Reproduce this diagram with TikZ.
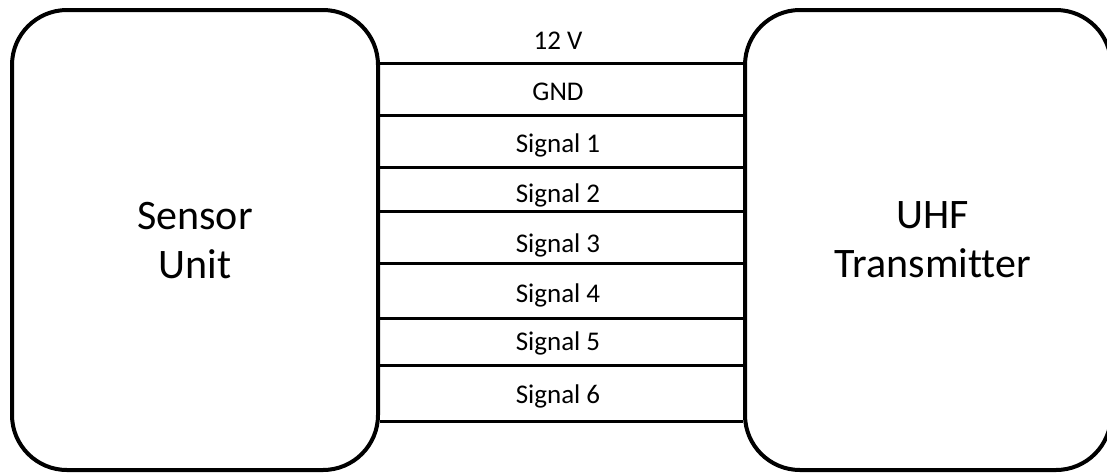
\documentclass[tikz,border=0pt]{standalone}
\usepackage{fontspec}
\setmainfont{Carlito}[Ligatures=NoCommon]
\begin{document}
\begin{tikzpicture}[x=1pt,y=-1pt,
  unitbox/.style={draw, line width=4pt, rounded corners=55pt, align=center,
    font=\fontsize{42}{49}\selectfont, inner sep=0pt, text depth=0pt},
  wire/.style={line width=3pt},
  wirelabel/.style={anchor=base, inner sep=0pt, font=\fontsize{27}{30}\selectfont}]
  \useasboundingbox (0,0) rectangle (1107,475);
  \begin{scope}
    \clip (0,0) rectangle (1107,475);
    % the two units
    \node[unitbox, minimum width=366pt, minimum height=460pt] (sensor) at (195,240) {Sensor\\Unit};
    \node[unitbox, minimum width=366pt, minimum height=460pt] (uhf) at (928,240) {\hspace*{10pt}UHF\\\hspace*{10pt}Transmitter};
  \end{scope}
  % wires between the units
  \foreach \y in {63,115,167,211,263,318,365,421}
    \draw[wire] (sensor.east |- 0,\y) -- (uhf.west |- 0,\y);
  % wire labels
  \node[wirelabel] (l1) at (558,49)  {12 V};
  \node[wirelabel] (l2) at (558,100) {GND};
  \node[wirelabel] (l3) at (558,152) {Signal 1};
  \node[wirelabel] (l4) at (558,202) {Signal 2};
  \node[wirelabel] (l5) at (558,252) {Signal 3};
  \node[wirelabel] (l6) at (558,302) {Signal 4};
  \node[wirelabel] (l7) at (558,350) {Signal 5};
  \node[wirelabel] (l8) at (558,403) {Signal 6};
\end{tikzpicture}
\end{document}
